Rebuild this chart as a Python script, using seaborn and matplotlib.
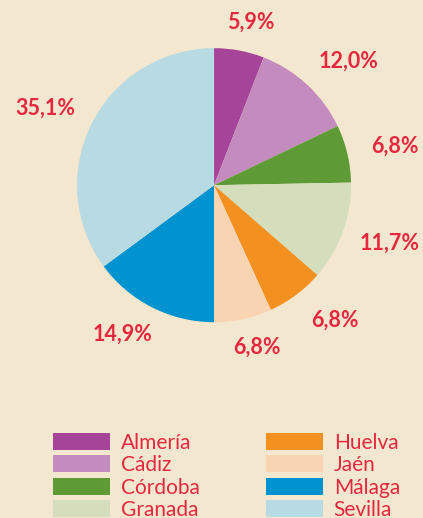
import numpy as np
import matplotlib
matplotlib.use("Agg")
import matplotlib.pyplot as plt
import matplotlib.patches as mpatches
import seaborn as sns

provincias = ["Almería", "Cádiz", "Córdoba", "Granada", "Huelva", "Jaén", "Málaga", "Sevilla"]
porcentajes = [5.9, 12.0, 6.8, 11.7, 6.8, 6.8, 14.9, 35.1]
colores = ["#A54499", "#C48CBE", "#5E9A35", "#D4DEBC", "#F39020", "#F8D4B3", "#0093CF", "#B8DAE3"]

fondo = "#F3E7CF"
rojo = "#E5283F"

sns.set_theme(style="white")
plt.rcParams["font.family"] = ["Lato", "DejaVu Sans"]

fig = plt.figure(figsize=(4.23, 5.18), dpi=100, facecolor=fondo)
ax = fig.add_axes([0.182, 0.378, 0.648, 0.529])
ax.set_facecolor(fondo)

wedges, texts = ax.pie(porcentajes, colors=colores, startangle=90, counterclock=False,
                       wedgeprops=dict(linewidth=0))
ax.set_aspect("equal")

# etiquetas fuera del pastel: el borde más cercano del texto queda a ~1.15 radios
hw, hh = 20, 6  # medio ancho / media altura aprox. del texto (pt)
for w, p in zip(wedges, porcentajes):
    ang = np.deg2rad((w.theta1 + w.theta2) / 2)
    c, s = np.cos(ang), np.sin(ang)
    ax.annotate(f"{p:.1f}%".replace(".", ","), xy=(1.15 * c, 1.15 * s),
                xytext=(hw * np.clip(1.6 * c, -1, 1), hh * np.clip(1.6 * s, -1, 1)),
                textcoords="offset points", ha="center", va="center",
                color=rojo, fontsize=15.5, fontweight="bold", annotation_clip=False)

ax.set_xlim(-1, 1)
ax.set_ylim(-1, 1)
ax.axis("off")

handles = [mpatches.Patch(facecolor=c, edgecolor="none") for c in colores]
leg = fig.legend(handles, provincias, ncol=2, loc="upper left",
                 bbox_to_anchor=(0.125, 0.165), frameon=False, fontsize=15,
                 handlelength=2.74, handleheight=0.87, handletextpad=0.53,
                 labelspacing=0.12, columnspacing=3.15, borderpad=0, borderaxespad=0)
for t in leg.get_texts():
    t.set_color(rojo)

fig.savefig("out.png", dpi=100, facecolor=fondo)
